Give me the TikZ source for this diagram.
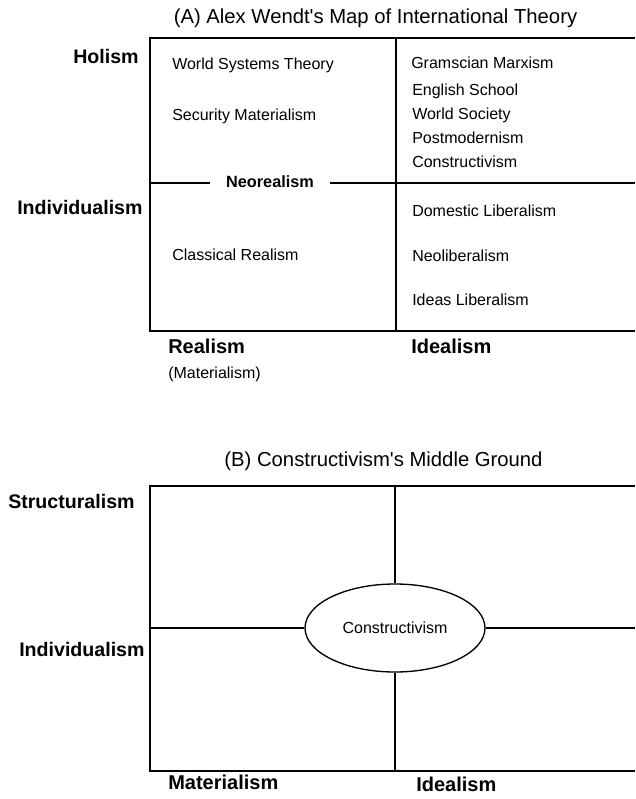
\documentclass[tikz,border=0pt]{standalone}
\usepackage{fontspec}
\setmainfont{Liberation Sans}
\usetikzlibrary{shapes.geometric}
\begin{document}
\begin{tikzpicture}[x=0.75pt,y=-0.75pt,
  frame/.style={line width=1pt,black},
  ttl/.style={inner sep=0,font=\fontsize{15.2}{18}\selectfont},
  item/.style={anchor=mid west,inner sep=0,font=\fontsize{12}{14}\selectfont},
  axis/.style={anchor=mid west,inner sep=0,font=\fontsize{14.7}{17}\selectfont\bfseries},
  sub/.style={anchor=mid west,inner sep=0,font=\fontsize{12}{14}\selectfont}]
\useasboundingbox[fill=white] (0,0) rectangle (635,799);

% ---------- Panel A ----------
\node[ttl] (ta) at (375.5,18) {(A) Alex Wendt\textquotesingle s Map of International Theory};
\coordinate (atl) at (150,38);
\coordinate (atr) at (635,38);
\coordinate (abl) at (150,331);
\coordinate (abr) at (635,331);
\coordinate (adt) at (396,38);
\coordinate (adb) at (396,331);
\coordinate (aml) at (150,183);
\coordinate (amr) at (635,183);
\node[inner xsep=12pt,inner ysep=0,font=\fontsize{12.2}{14}\selectfont\bfseries] (neo) at (270,182) {Neorealism};
\draw[frame] (atr) -- (atl) -- (abl) -- (abr);
\draw[frame] (adt) -- (adb);
\draw[frame] (aml) -- (neo.west |- aml);
\draw[frame] (neo.east |- amr) -- (amr);

\node[axis] (holism) at (73,60) {Holism};
\node[axis] (indA) at (17,211) {Individualism};

\node[item] (wst) at (172,66) {World Systems Theory};
\node[item] (secm) at (172,117) {Security Materialism};
\node[item] (clr) at (172,257) {Classical Realism};

\node[item] (gm) at (411,65) {Gramscian Marxism};
\node[item] (es) at (412,92) {English School};
\node[item] (ws) at (412,116) {World Society};
\node[item] (pm) at (412,140) {Postmodernism};
\node[item] (cA) at (412,164) {Constructivism};
\node[item] (dl) at (412,213) {Domestic Liberalism};
\node[item] (nl) at (412,258) {Neoliberalism};
\node[item] (il) at (412,302) {Ideas Liberalism};

\node[axis,font=\fontsize{15}{17}\selectfont\bfseries] (real) at (168,350) {Realism};
\node[sub] (mat) at (168,375) {(Materialism)};
\node[axis,font=\fontsize{15}{17}\selectfont\bfseries] (idA) at (411,350) {Idealism};

% ---------- Panel B ----------
\node[ttl] (tb) at (383.5,461) {(B) Constructivism\textquotesingle s Middle Ground};
\coordinate (btl) at (150,486);
\coordinate (btr) at (635,486);
\coordinate (bbl) at (150,771);
\coordinate (bbr) at (635,771);
\node[ellipse,draw,line width=1pt,minimum width=135pt,minimum height=66pt,inner sep=0,
  font=\fontsize{12}{14}\selectfont] (ell) at (395,628) {Constructivism};
\draw[frame] (btr) -- (btl) -- (bbl) -- (bbr);
\draw[frame] (ell.north |- btl) -- (ell.north);
\draw[frame] (ell.south) -- (ell.south |- bbl);
\draw[frame] (ell.west -| btl) -- (ell.west);
\draw[frame] (ell.east) -- (ell.east -| btr);

\node[axis] (struct) at (8,505) {Structuralism};
\node[axis] (indB) at (19,653) {Individualism};
\node[axis,font=\fontsize{15}{17}\selectfont\bfseries] (matB) at (168,786) {Materialism};
\node[axis,font=\fontsize{15}{17}\selectfont\bfseries] (idB) at (416,788) {Idealism};
\end{tikzpicture}
\end{document}
